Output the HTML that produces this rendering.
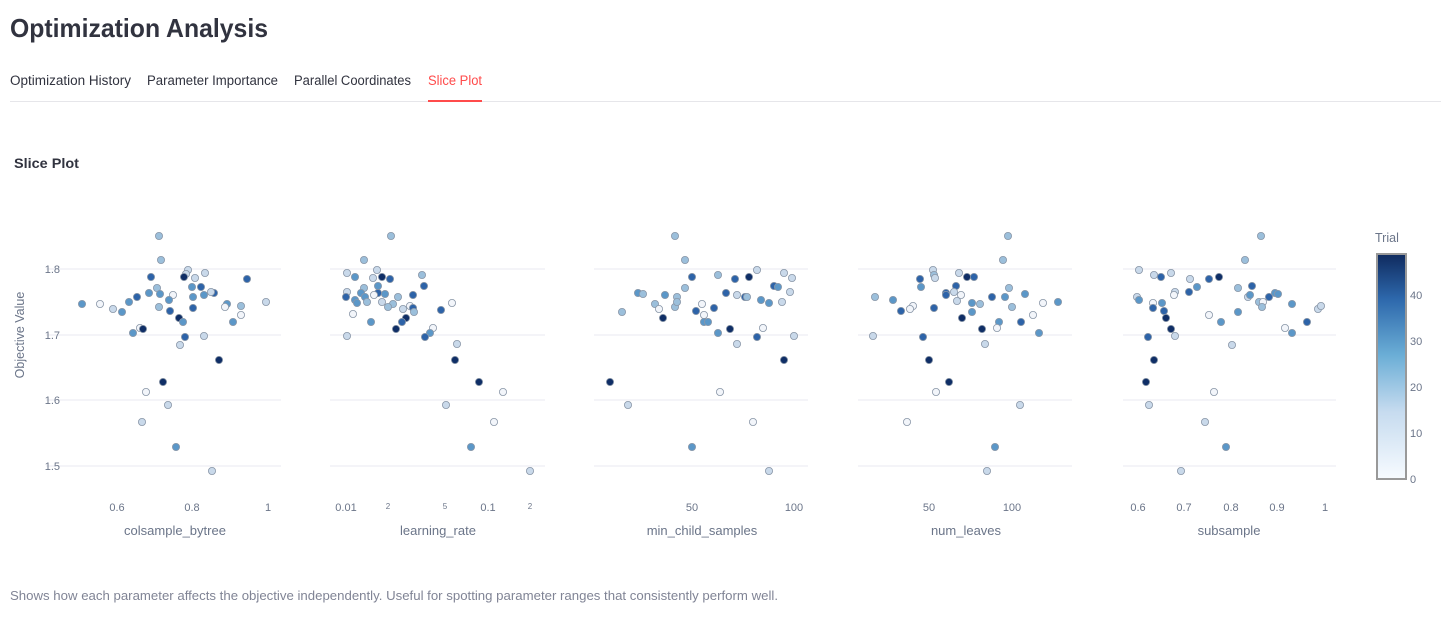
<!DOCTYPE html>
<html><head><meta charset="utf-8"><style>
body{margin:0;background:#fff;width:1441px;height:617px;overflow:hidden;font-family:"Liberation Sans",sans-serif}
svg text{font-family:"Liberation Sans",sans-serif}
</style></head><body>
<svg id="s" width="1441" height="617" viewBox="0 0 1441 617" xmlns="http://www.w3.org/2000/svg">
<defs><linearGradient id="g" x1="0" y1="1" x2="0" y2="0">
<stop offset="0" stop-color="#f7fbff"/><stop offset="0.3" stop-color="#c6dbef"/><stop offset="0.55" stop-color="#6baed6"/><stop offset="0.8" stop-color="#2d68ac"/><stop offset="1" stop-color="#0f2a5e"/></linearGradient></defs>
<text x="10" y="37" font-size="26" font-weight="bold" fill="#31333f" textLength="258" lengthAdjust="spacingAndGlyphs">Optimization Analysis</text>
<g font-size="13.5" fill="#31333f">
<text x="10" y="85" textLength="121" lengthAdjust="spacingAndGlyphs">Optimization History</text>
<text x="147" y="85" textLength="131" lengthAdjust="spacingAndGlyphs">Parameter Importance</text>
<text x="294" y="85" textLength="117" lengthAdjust="spacingAndGlyphs">Parallel Coordinates</text>
<text x="428" y="85" fill="#ff4b4b" textLength="54" lengthAdjust="spacingAndGlyphs">Slice Plot</text></g>
<rect x="10" y="101" width="1431" height="1" fill="#e6e6ea"/>
<rect x="428" y="100" width="54" height="2" fill="#ff4b4b"/>
<text x="14" y="168" font-size="14" font-weight="bold" fill="#31333f" textLength="65" lengthAdjust="spacingAndGlyphs">Slice Plot</text>
<text x="10" y="600" font-size="12.5" fill="#808495" textLength="768" lengthAdjust="spacingAndGlyphs">Shows how each parameter affects the objective independently. Useful for spotting parameter ranges that consistently perform well.</text>
<g id="grid" stroke="#e8eaf0" stroke-width="1"></g>
<g font-size="11" fill="#6b7589" text-anchor="end">
<text x="60" y="273">1.8</text><text x="60" y="339">1.7</text><text x="60" y="404">1.6</text><text x="60" y="470">1.5</text></g>
<text transform="translate(24,335) rotate(-90)" font-size="12.5" fill="#6b7589" text-anchor="middle">Objective Value</text>
<g font-size="11" fill="#6b7589" text-anchor="middle">
<text x="117" y="511">0.6</text><text x="192" y="511">0.8</text><text x="268" y="511">1</text>
<text x="346" y="511">0.01</text><text x="388" y="509" font-size="8">2</text><text x="445" y="509" font-size="8">5</text><text x="488" y="511">0.1</text><text x="530" y="509" font-size="8">2</text>
<text x="692" y="511">50</text><text x="794" y="511">100</text>
<text x="929" y="511">50</text><text x="1012" y="511">100</text>
<text x="1138" y="511">0.6</text><text x="1184" y="511">0.7</text><text x="1231" y="511">0.8</text><text x="1277" y="511">0.9</text><text x="1325" y="511">1</text></g>
<g font-size="13" fill="#6b7589" text-anchor="middle">
<text x="175" y="535">colsample_bytree</text><text x="438" y="535">learning_rate</text><text x="702" y="535">min_child_samples</text><text x="966" y="535">num_leaves</text><text x="1229" y="535">subsample</text></g>
<text x="1375" y="242" font-size="12.5" fill="#6b7589">Trial</text>
<rect x="1377" y="254" width="29" height="225" fill="url(#g)" stroke="#999" stroke-width="2"/>
<g font-size="11" fill="#6b7589">
<text x="1410" y="483">0</text><text x="1410" y="437">10</text><text x="1410" y="391">20</text><text x="1410" y="345">30</text><text x="1410" y="299">40</text></g>
<g id="pts" stroke="#8a97a8" stroke-width="0.8"></g>
</svg>
<script>
var C={W:"#f2f5fa",P:"#c9d9ea",L:"#9bbfdb",M:"#5b97c8",D:"#2d63a8",V:"#0f2e66"};
var grid=document.getElementById("grid"),ns="http://www.w3.org/2000/svg";
[[46,281],[330,545],[594,808],[858,1072],[1123,1336]].forEach(function(r){[269,335,400,466].forEach(function(y){var l=document.createElementNS(ns,"line");l.setAttribute("x1",r[0]);l.setAttribute("x2",r[1]);l.setAttribute("y1",y);l.setAttribute("y2",y);grid.appendChild(l);});});
var d="159,236,L 161,260,L 188,270,P 186,274,P 205,273,P 151,277,D 184,277,V 195,278,P 247,279,D 192,287,M 201,287,D 157,288,L 149,293,M 160,294,M 173,295,W 214,293,D 211,292,P 169,300,M 193,297,M 204,295,M 137,297,D 129,302,M 82,304,M 100,304,W 113,309,P 122,312,M 159,307,L 170,311,D 193,308,D 227,304,M 225,307,W 241,306,L 266,302,P 179,318,V 183,322,M 233,322,M 241,315,W 140,328,W 143,329,V 133,333,M 185,337,D 204,336,P 180,345,P 219,360,V 163,382,V 146,392,W 168,405,P 142,422,P 176,447,M 212,471,P "+
"391,236,L 364,260,L 347,273,P 377,270,P 355,277,M 373,278,P 382,277,V 390,279,D 422,275,L 424,286,D 378,286,M 364,288,L 347,292,P 378,293,D 361,293,M 374,295,W 385,294,M 365,297,M 346,297,D 398,297,L 413,295,D 355,300,M 367,302,L 382,302,P 357,303,M 393,304,L 388,307,L 403,309,P 410,306,W 413,308,D 414,312,L 452,303,W 441,310,D 406,318,V 402,322,D 371,322,M 353,314,W 396,329,V 433,328,W 430,333,M 425,337,D 347,336,P 457,344,P 455,360,V 479,382,V 503,392,W 446,405,P 494,422,W 471,447,M 530,471,P "+
"675,236,L 685,260,L 757,270,P 784,273,P 792,278,P 692,277,D 718,275,L 735,279,D 749,277,V 774,286,D 778,287,M 685,288,L 638,293,M 643,294,L 665,295,M 677,297,L 726,293,D 737,295,P 745,297,D 747,297,L 761,300,M 769,303,M 782,302,P 790,292,P 655,304,L 659,309,W 675,307,L 677,302,L 702,304,W 696,311,D 714,308,D 704,315,W 704,322,M 708,322,M 622,312,L 663,318,V 718,333,M 730,329,V 763,328,W 757,337,D 794,336,P 737,344,P 784,360,V 610,382,V 720,392,W 628,405,P 753,422,W 692,447,M 769,471,P "+
"1008,236,L 1003,260,L 933,270,P 959,273,P 934,275,L 935,278,P 920,279,D 967,277,V 974,277,D 921,287,M 956,286,D 1009,288,L 946,293,D 946,295,D 954,292,P 961,295,W 875,297,L 893,300,M 992,297,D 1005,297,M 1025,294,M 1043,303,W 1058,302,M 957,301,P 972,303,M 980,304,L 1012,307,L 913,306,W 910,309,W 901,311,D 934,308,D 972,312,M 1033,315,W 962,318,V 999,322,M 1021,322,D 982,329,V 997,328,W 1039,333,M 923,337,D 873,336,P 985,344,P 929,360,V 949,382,V 936,392,W 1020,405,P 907,422,W 995,447,M 987,471,P "+
"1261,236,L 1245,260,L 1139,270,P 1154,275,P 1171,273,P 1161,277,D 1190,279,P 1209,279,D 1219,277,V 1252,286,D 1197,287,M 1238,288,L 1175,292,P 1174,295,W 1189,292,D 1137,297,P 1139,300,M 1248,297,P 1250,295,M 1269,297,D 1275,293,M 1278,294,M 1259,302,L 1263,302,W 1262,307,L 1292,304,M 1153,303,W 1162,303,M 1153,308,D 1164,311,D 1166,318,V 1171,329,V 1209,315,W 1238,312,M 1221,322,M 1307,322,D 1318,309,P 1321,306,P 1285,328,W 1292,333,M 1148,337,D 1175,336,P 1232,345,P 1154,360,V 1146,382,V 1214,392,W 1149,405,P 1205,422,P 1226,447,M 1181,471,P";
var g=document.getElementById("pts");
d.trim().split(/\s+/).forEach(function(p){var a=p.split(",");var c=document.createElementNS(ns,"circle");c.setAttribute("cx",a[0]);c.setAttribute("cy",a[1]);c.setAttribute("r","3.6");c.setAttribute("fill",C[a[2]]);g.appendChild(c);});
</script>
</body></html>
